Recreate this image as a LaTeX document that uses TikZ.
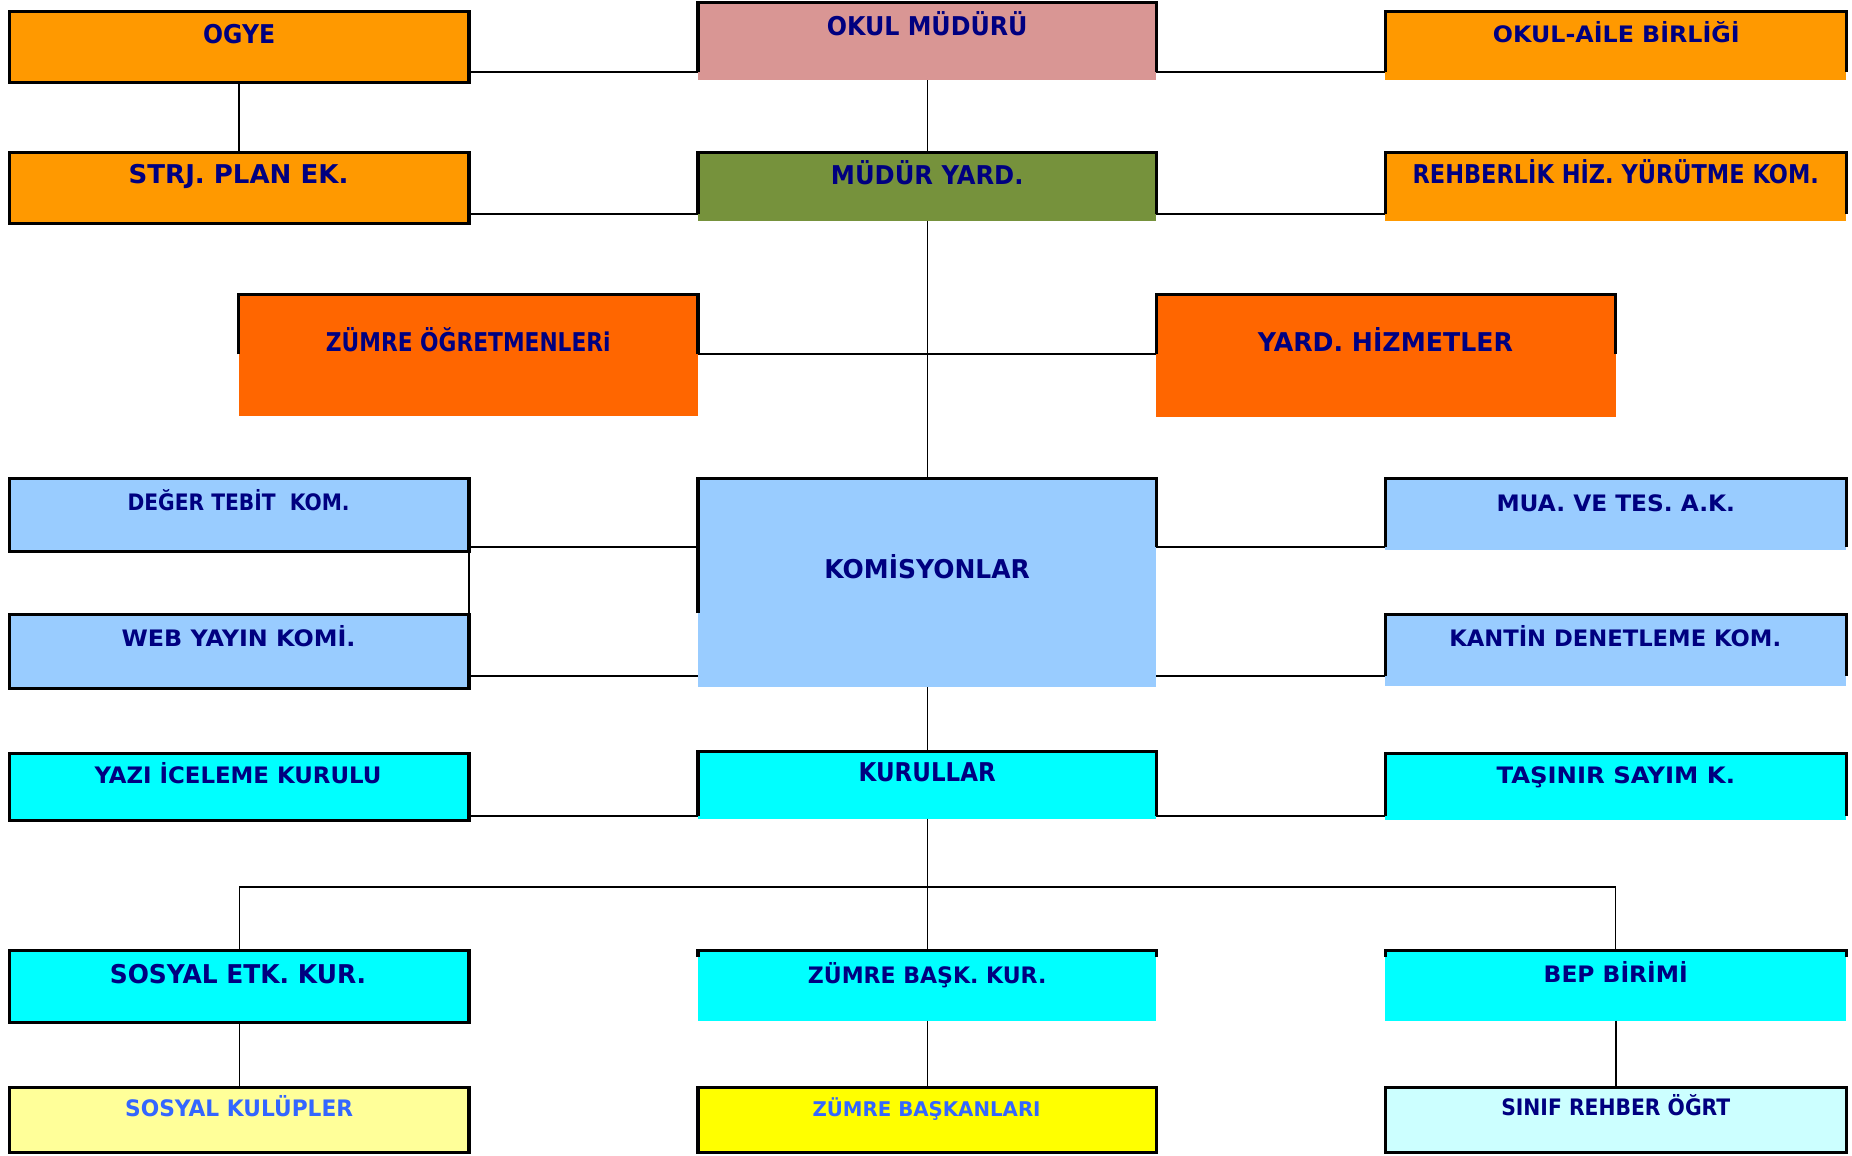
\documentclass[tikz,border=0pt]{standalone}
\usepackage{fontspec}
\setmainfont{DejaVu Sans}
\usepackage{graphicx}
\definecolor{orng}{RGB}{255,153,0}
\definecolor{dorng}{RGB}{255,102,0}
\definecolor{pinkb}{RGB}{217,150,148}
\definecolor{oliveb}{RGB}{118,146,60}
\definecolor{lblue}{RGB}{153,204,255}
\definecolor{cyn}{RGB}{0,255,255}
\definecolor{lyel}{RGB}{255,255,153}
\definecolor{yel}{RGB}{255,255,0}
\definecolor{pcyan}{RGB}{204,255,255}
\definecolor{navyt}{RGB}{0,0,128}
\definecolor{tblue}{RGB}{51,102,255}
\newcommand\fitt[2]{\resizebox{#1}{\height}{#2}}
\newcommand\mkbox[6]{\node[#6,minimum width={(#4-#2)*0.8858pt},minimum height={(#5-#3)*0.8858pt}] (#1) at ({(#2+#4)/2},{(#3+#5)/2}) {};}
\newcommand\fA{\fontsize{19.4}{20}\selectfont\bfseries}
\newcommand\fB{\fontsize{17}{18}\selectfont\bfseries}
\newcommand\fC{\fontsize{15.2}{16}\selectfont\bfseries}
\begin{document}
\begin{tikzpicture}[x=0.8858pt,y=-0.8858pt,
  fb/.style={draw=black,line width=2.4pt,outer sep=0pt,inner sep=0pt},
  ob/.style={draw=none,outer sep=0pt,inner sep=0pt},
  bord/.style={line width=2.4pt},
  hc/.style={line width=1.6pt},
  vc/.style={line width=0.9pt},
  tx/.style={anchor=base,inner sep=0pt,text=navyt}]
\useasboundingbox (0,0) rectangle (1568,978);
% boxes
\mkbox{ogye}{8}{10}{397}{70}{fb,fill=orng}
\mkbox{mud}{591}{2}{979}{68}{ob,fill=pinkb}
\mkbox{oab}{1173}{10}{1563}{68}{ob,fill=orng}
\mkbox{strj}{8}{129}{397}{189}{fb,fill=orng}
\mkbox{myard}{591}{129}{979}{187}{ob,fill=oliveb}
\mkbox{rehb}{1173}{129}{1563}{187}{ob,fill=orng}
\mkbox{zog}{202}{249}{591}{352}{ob,fill=dorng}
\mkbox{yhiz}{979}{249}{1368}{353}{ob,fill=dorng}
\mkbox{deger}{8}{405}{397}{467}{fb,fill=lblue}
\mkbox{kom}{591}{405}{979}{582}{ob,fill=lblue}
\mkbox{mua}{1173}{405}{1563}{466}{ob,fill=lblue}
\mkbox{web}{8}{520}{397}{583}{fb,fill=lblue}
\mkbox{kantin}{1173}{520}{1563}{581}{ob,fill=lblue}
\mkbox{yazi}{8}{638}{397}{695}{fb,fill=cyn}
\mkbox{kur}{591}{636}{979}{693}{ob,fill=cyn}
\mkbox{tas}{1173}{638}{1563}{694}{ob,fill=cyn}
\mkbox{setk}{8}{805}{397}{866}{fb,fill=cyn}
\mkbox{zbk}{591}{805}{979}{864}{ob,fill=cyn}
\mkbox{bep}{1173}{805}{1563}{864}{ob,fill=cyn}
\mkbox{skul}{8}{921}{397}{976}{fb,fill=lyel}
\mkbox{zb}{591}{921}{979}{976}{fb,fill=yel}
\mkbox{sinif}{1173}{921}{1563}{976}{fb,fill=pcyan}
% connector levels
\coordinate (r1) at (0,61);
\coordinate (r2) at (0,181);
\coordinate (r3) at (0,300);
\coordinate (r4) at (0,463);
\coordinate (kl) at (0,519);
\coordinate (r5) at (0,572);
\coordinate (r6) at (0,691);
\coordinate (bus) at (0,751);
\coordinate (s7) at (0,810);
% open borders
\draw[bord] (mud.west |- r1) -- (mud.north west) -- (mud.north east) -- (mud.east |- r1);
\draw[bord] (oab.west |- r1) -- (oab.north west) -- (oab.north east) -- (oab.east |- r1);
\draw[bord] (myard.west |- r2) -- (myard.north west) -- (myard.north east) -- (myard.east |- r2);
\draw[bord] (rehb.west |- r2) -- (rehb.north west) -- (rehb.north east) -- (rehb.east |- r2);
\draw[bord] (zog.west |- r3) -- (zog.north west) -- (zog.north east) -- (zog.east |- r3);
\draw[bord] (yhiz.west |- r3) -- (yhiz.north west) -- (yhiz.north east) -- (yhiz.east |- r3);
\draw[bord] (kom.west |- kl) -- (kom.north west) -- (kom.north east) -- (kom.east |- r4);
\draw[bord] (mua.west |- r4) -- (mua.north west) -- (mua.north east) -- (mua.east |- r4);
\draw[bord] (kantin.west |- r5) -- (kantin.north west) -- (kantin.north east) -- (kantin.east |- r5);
\draw[bord] (kur.west |- r6) -- (kur.north west) -- (kur.north east) -- (kur.east |- r6);
\draw[bord] (tas.west |- r6) -- (tas.north west) -- (tas.north east) -- (tas.east |- r6);
\draw[bord] (zbk.west |- s7) -- (zbk.north west) -- (zbk.north east) -- (zbk.east |- s7);
\draw[bord] (bep.west |- s7) -- (bep.north west) -- (bep.north east) -- (bep.east |- s7);
% horizontal connectors
\draw[hc] (ogye.east |- r1) -- (mud.west |- r1);
\draw[hc] (mud.east |- r1) -- (oab.west |- r1);
\draw[hc] (strj.east |- r2) -- (myard.west |- r2);
\draw[hc] (myard.east |- r2) -- (rehb.west |- r2);
\draw[hc] (zog.east |- r3) -- (yhiz.west |- r3);
\draw[hc] (deger.east |- r4) -- (kom.west |- r4);
\draw[hc] (kom.east |- r4) -- (mua.west |- r4);
\draw[hc] (web.east |- r5) -- (kom.west |- r5);
\draw[hc] (kom.east |- r5) -- (kantin.west |- r5);
\draw[hc] (yazi.east |- r6) -- (kur.west |- r6);
\draw[hc] (kur.east |- r6) -- (tas.west |- r6);
\draw[hc] (setk.north |- bus) -- (bep.north |- bus);
% vertical connectors
\draw[vc,line width=1.4pt] (ogye.south) -- (strj.north);
\draw[vc] (mud.south) -- (myard.north);
\draw[vc] (myard.south) -- (kom.north);
\draw[vc] (deger.south east) -- (web.north east);
\draw[vc] (kom.south) -- (kur.north);
\draw[vc] (kur.south) -- (kur.south |- bus);
\draw[vc] (setk.north |- bus) -- (setk.north);
\draw[vc] (zbk.north |- bus) -- (zbk.north);
\draw[vc] (bep.north |- bus) -- (bep.north);
\draw[vc] (setk.south) -- (skul.north);
\draw[vc] (zbk.south) -- (zb.north);
\draw[vc,line width=1.2pt] (bep.south) -- (sinif.north);
% texts
\node[tx,font=\fA] (ogyeT) at (202.5,36.5) {\fitt{54pt}{OGYE}};
\node[tx,font=\fA] (mudT) at (785,30) {\fitt{150.6pt}{OKUL MÜDÜRÜ}};
\node[tx,font=\fB] (oabT) at (1368.5,36) {\fitt{185.1pt}{OKUL-AİLE BİRLİĞİ}};
\node[tx,font=\fA] (strjT) at (202,155) {\fitt{164.8pt}{STRJ. PLAN EK.}};
\node[tx,font=\fA] (myardT) at (785,156) {\fitt{144.4pt}{MÜDÜR YARD.}};
\node[tx,font=\fA] (rehbT) at (1368,155) {\fitt{304.7pt}{REHBERLİK HİZ. YÜRÜTME KOM.}};
\node[tx,font=\fA] (zogT) at (396.5,298) {\fitt{213.5pt}{ZÜMRE ÖĞRETMENLERi}};
\node[tx,font=\fA] (yhizT) at (1173,298) {\fitt{191.3pt}{YARD. HİZMETLER}};
\node[tx,font=\fB] (degerT) at (202,432) {\fitt{166.5pt}{DEĞER TEBİT\ \ KOM.}};
\node[tx,font=\fA] (komT) at (785,490) {\fitt{154.1pt}{KOMİSYONLAR}};
\node[tx,font=\fB] (muaT) at (1368,433) {\fitt{178.9pt}{MUA. VE TES. A.K.}};
\node[tx,font=\fB] (webT) at (202,547.5) {\fitt{175.4pt}{WEB YAYIN KOMİ.}};
\node[tx,font=\fB] (kantinT) at (1367.5,547.5) {\fitt{248.9pt}{KANTİN DENETLEME KOM.}};
\node[tx,font=\fB] (yaziT) at (201.5,663) {\fitt{215.2pt}{YAZI İCELEME KURULU}};
\node[tx,font=\fA] (kurT) at (785,662) {\fitt{102.8pt}{KURULLAR}};
\node[tx,font=\fB] (tasT) at (1368,663) {\fitt{178.9pt}{TAŞINIR SAYIM K.}};
\node[tx,font=\fA] (setkT) at (201.5,833) {\fitt{192.2pt}{SOSYAL ETK. KUR.}};
\node[tx,font=\fB] (zbkT) at (785,832.6) {\fitt{178.9pt}{ZÜMRE BAŞK. KUR.}};
\node[tx,font=\fB] (bepT) at (1368,832) {\fitt{108.1pt}{BEP BİRİMİ}};
\node[tx,font=\fB,text=tblue] (skulT) at (202.5,945.5) {\fitt{171pt}{SOSYAL KULÜPLER}};
\node[tx,font=\fC,text=tblue] (zbT) at (784.5,945) {\fitt{171pt}{ZÜMRE BAŞKANLARI}};
\node[tx,font=\fB] (sinifT) at (1368,944.6) {\fitt{171.8pt}{SINIF REHBER ÖĞRT}};
\end{tikzpicture}
\end{document}
